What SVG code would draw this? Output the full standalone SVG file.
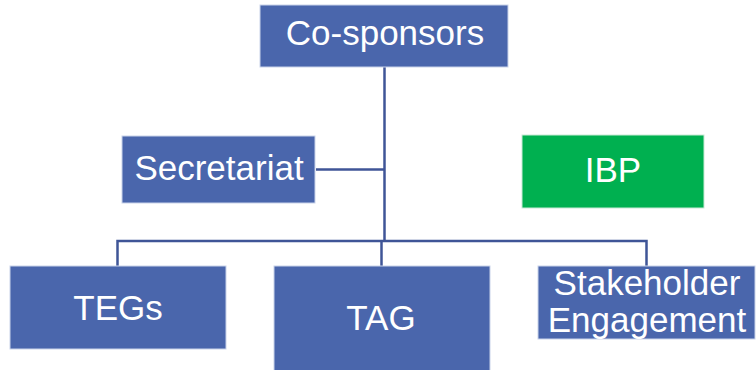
<svg xmlns="http://www.w3.org/2000/svg" width="756" height="370" viewBox="0 0 756 370">
  <style>
    .box { fill: #4A66AC; stroke: #C9D3EA; stroke-width: 1; }
    .green { fill: #00B050; stroke: #C9EAD6; stroke-width: 1; }
    .label { font-family: "Liberation Sans", Arial, sans-serif; font-size: 35px; fill: #FFFFFF; text-anchor: middle; }
    .link { fill: none; stroke: #3F5597; stroke-width: 2.5; }
  </style>
  <rect width="756" height="370" fill="#FFFFFF"/>

  <!-- connectors -->
  <g id="connectors">
    <line class="link" x1="384.5" y1="67" x2="384.5" y2="241"/>
    <line class="link" x1="316" y1="169.5" x2="384.5" y2="169.5"/>
    <polyline class="link" points="117.5,266 117.5,241 646.5,241 646.5,266"/>
    <line class="link" x1="381.5" y1="241" x2="381.5" y2="266"/>
  </g>

  <g id="co-sponsors">
    <rect class="box" x="260" y="5" width="248" height="62"/>
    <text class="label" x="385" y="45">Co-sponsors</text>
  </g>

  <g id="secretariat">
    <rect class="box" x="122" y="136" width="193" height="67"/>
    <text class="label" x="219" y="180">Secretariat</text>
  </g>

  <g id="ibp">
    <rect class="green" x="522" y="135" width="182" height="73"/>
    <text class="label" x="613" y="182">IBP</text>
  </g>

  <g id="tegs">
    <rect class="box" x="10" y="266" width="216" height="83"/>
    <text class="label" x="118" y="320">TEGs</text>
  </g>

  <g id="tag">
    <rect class="box" x="274" y="266" width="216" height="106"/>
    <text class="label" x="381" y="330">TAG</text>
  </g>

  <g id="stakeholder-engagement">
    <rect class="box" x="538" y="266" width="217" height="73"/>
    <text class="label" x="647" y="295">Stakeholder</text>
    <text class="label" x="647" y="332">Engagement</text>
  </g>
</svg>
